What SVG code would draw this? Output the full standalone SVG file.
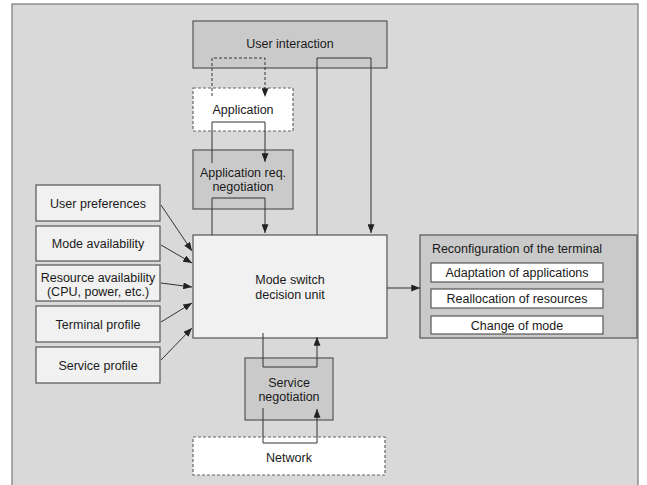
<svg xmlns="http://www.w3.org/2000/svg" width="647" height="485" viewBox="0 0 647 485">
<defs>
<marker id="ah" viewBox="0 0 10 8" refX="10" refY="4" markerWidth="9" markerHeight="7" markerUnits="userSpaceOnUse" orient="auto"><path d="M0,0 L10,4 L0,8 z" fill="#222"/></marker>
<style>
text{font-family:"Liberation Sans",Arial,sans-serif;font-size:12.5px;fill:#1a1a1a;text-anchor:middle}
.box{stroke:#555;stroke-width:1.2}
.gray{fill:#cacaca}
.light{fill:#f1f1f1}
.white{fill:#fff}
.dash{fill:#fff;stroke:#666;stroke-width:1.2;stroke-dasharray:3,2}
.c{fill:none;stroke:#333;stroke-width:1}
.cd{fill:none;stroke:#333;stroke-width:1;stroke-dasharray:3,2}
</style>
</defs>
<rect width="647" height="485" fill="#fff"/>
<rect x="12" y="4" width="626" height="490" fill="#d9d9d9" stroke="#777" stroke-width="1.2"/>
<g id="user-interaction"><rect class="box gray" x="193" y="21" width="194" height="47"/><text x="290" y="48">User interaction</text></g>
<g id="application"><rect class="dash" x="193" y="88" width="100" height="43"/><text x="243" y="114">Application</text></g>
<g id="app-req"><rect class="box gray" x="193" y="150" width="100" height="59"/><text x="243" y="177">Application req.</text><text x="243" y="191">negotiation</text></g>
<g id="mode-switch"><rect class="box light" x="193" y="235" width="194" height="103"/><text x="290" y="284">Mode switch</text><text x="290" y="299">decision unit</text></g>
<g id="service-neg"><rect class="box gray" x="245" y="358" width="88" height="62"/><text x="289" y="387">Service</text><text x="289" y="401">negotiation</text></g>
<g id="network"><rect class="dash" x="193" y="437" width="192" height="38"/><text x="289" y="462">Network</text></g>
<g id="user-preferences"><rect class="box light" x="36" y="185" width="124" height="36"/><text x="98" y="208">User preferences</text></g>
<g id="mode-availability"><rect class="box light" x="36" y="226" width="124" height="35"/><text x="98" y="248">Mode availability</text></g>
<g id="resource-availability"><rect class="box light" x="36" y="265" width="124" height="36"/><text x="98" y="282">Resource availability</text><text x="98" y="296">(CPU, power, etc.)</text></g>
<g id="terminal-profile"><rect class="box light" x="36" y="306" width="124" height="36"/><text x="98" y="329">Terminal profile</text></g>
<g id="service-profile"><rect class="box light" x="36" y="347" width="124" height="36"/><text x="98" y="370">Service profile</text></g>
<g id="reconfiguration"><rect class="box gray" x="420" y="235" width="217" height="103"/><text x="517" y="253">Reconfiguration of the terminal</text>
<rect class="box white" x="431" y="263" width="172" height="19"/><text x="517" y="277">Adaptation of applications</text>
<rect class="box white" x="431" y="289" width="172" height="19"/><text x="517" y="303">Reallocation of resources</text>
<rect class="box white" x="431" y="316" width="172" height="18"/><text x="517" y="330">Change of mode</text></g>
<g id="connectors">
<path class="cd" d="M212,96 V58 H265 V97" marker-end="url(#ah)"/>
<path class="c" d="M212,163 V122 H265 V162" marker-end="url(#ah)"/>
<path class="c" d="M212,235 V198 H265 V233" marker-end="url(#ah)"/>
<path class="c" d="M317,235 V58 H371 V233" marker-end="url(#ah)"/>
<path class="c" d="M263,333 V367 H317 V337" marker-end="url(#ah)"/>
<path class="c" d="M263,408 V443 H317 V409" marker-end="url(#ah)"/>
<path class="c" d="M161,205 L192,251" marker-end="url(#ah)"/>
<path class="c" d="M161,245 L192,263" marker-end="url(#ah)"/>
<path class="c" d="M161,283 L192,287" marker-end="url(#ah)"/>
<path class="c" d="M161,322 L192,303" marker-end="url(#ah)"/>
<path class="c" d="M161,360 L192,328" marker-end="url(#ah)"/>
<path class="c" d="M387,288 L420,288" marker-end="url(#ah)"/>
</g>
</svg>
